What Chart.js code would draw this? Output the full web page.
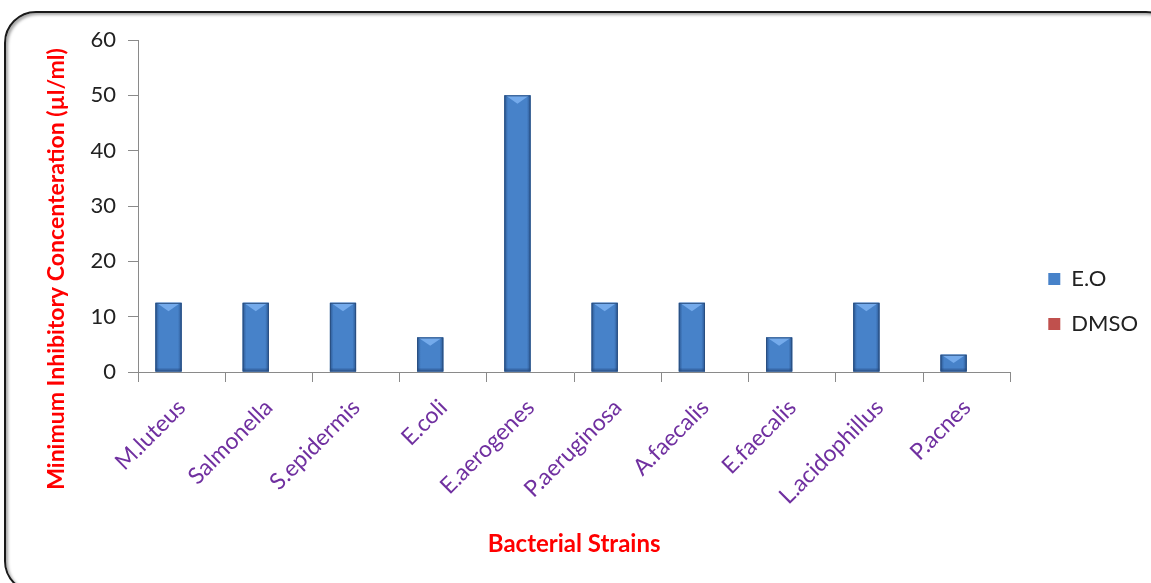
<!DOCTYPE html>
<html>
<head>
<meta charset="utf-8">
<script src="https://cdn.jsdelivr.net/npm/chart.js@4.4.1/dist/chart.umd.min.js"></script>
<style>
  body { margin: 0; background: #fff; }
  #frame {
    position: absolute; left: 4px; top: 11px; width: 1170px; height: 578px;
    border: 2px solid #1a1a1a; border-radius: 32px;
    box-shadow: inset 2px 2px 3px rgba(0, 0, 0, 0.35);
  }
  #chart { position: absolute; left: 0; top: 0; }
</style>
</head>
<body>
<div id="frame"></div>
<canvas id="chart" width="1151" height="583"></canvas>
<script>
// values
const strains = ["M.luteus", "Salmonella", "S.epidermis", "E.coli", "E.aerogenes",
  "P.aeruginosa", "A.faecalis", "E.faecalis", "L.acidophillus", "P.acnes"];
const eoValues = [12.5, 12.5, 12.5, 6.25, 50, 12.5, 12.5, 6.25, 12.5, 3.125];
const dmsoValues = [0, 0, 0, 0, 0, 0, 0, 0, 0, 0];
const yTicks = [0, 10, 20, 30, 40, 50, 60];

const yTitle = "Minimum Inhibitory Concenteration (µl/ml)";
const xTitle = "Bacterial Strains";

// office style bevel on the blue bars
const bevelBars = {
  id: "bevelBars",
  afterDatasetsDraw(chart) {
    const ctx = chart.ctx;
    chart.getDatasetMeta(0).data.forEach((bar) => {
      const { x, y, base, width } = bar.getProps(["x", "y", "base", "width"], true);
      const l = x - width / 2, r = x + width / 2, h = base - y;
      if (h <= 0) return;
      ctx.save();
      const g = ctx.createLinearGradient(l, 0, r, 0);
      g.addColorStop(0, "#2b5792");
      g.addColorStop(0.14, "#4782c9");
      g.addColorStop(0.86, "#4782c9");
      g.addColorStop(1, "#2b5792");
      ctx.fillStyle = g;
      ctx.fillRect(l, y, width, h);
      // light chevron at the top
      const d = Math.min(width * 0.32, h * 0.6);
      ctx.beginPath();
      ctx.moveTo(l + 1, y);
      ctx.lineTo(r - 1, y);
      ctx.lineTo(x, y + d);
      ctx.closePath();
      ctx.fillStyle = "#74aaeb";
      ctx.fill();
      // darker foot
      ctx.fillStyle = "rgba(30, 60, 110, 0.35)";
      ctx.fillRect(l, base - 3, width, 3);
      ctx.strokeStyle = "#2a4f80";
      ctx.lineWidth = 1;
      ctx.strokeRect(l + 0.5, y + 0.5, width - 1, h - 1);
      ctx.restore();
    });
  },
};

// y title is not centred on the plot in the original, so draw it here
const sideTitle = {
  id: "sideTitle",
  afterDraw(chart) {
    const ctx = chart.ctx;
    ctx.save();
    ctx.translate(57, 269);
    ctx.rotate(-Math.PI / 2);
    ctx.font = "bold 23px Lato";
    ctx.fillStyle = "#ff0000";
    ctx.textAlign = "center";
    ctx.textBaseline = "middle";
    ctx.fillText(yTitle, 0, 0);
    ctx.restore();
  },
};

// leave a gap between plot and legend
const legendGap = {
  id: "legendGap",
  afterInit(chart) {
    const fit = chart.legend.fit;
    chart.legend.fit = function () {
      fit.call(this);
      this.width += 15;
    };
  },
  afterLayout(chart) {
    chart.legend.left += 15;
    chart.legend.right += 15;
  },
};

new Chart(document.getElementById("chart"), {
  type: "bar",
  data: {
    labels: strains,
    datasets: [
      {
        label: "E.O",
        data: eoValues,
        backgroundColor: "#4782c9",
        borderWidth: 0,
        categoryPercentage: 0.6,
        barPercentage: 1,
      },
      {
        label: "DMSO",
        data: dmsoValues,
        backgroundColor: "#c0504d",
        borderWidth: 0,
        categoryPercentage: 0.6,
        barPercentage: 1,
      },
    ],
  },
  options: {
    responsive: false,
    animation: false,
    layout: { padding: { left: 0, top: 40, right: 3, bottom: 20 } },
    plugins: {
      tooltip: { enabled: false },
      legend: {
        position: "right",
        labels: {
          boxWidth: 12,
          boxHeight: 12,
          padding: 23,
          color: "#222",
          font: { family: "Lato", size: 22 },
        },
      },
    },
    scales: {
      x: {
        afterFit: (scale) => { scale.height = 191; },
        border: { color: "#8a8a8a" },
        grid: { drawOnChartArea: false, tickLength: 10, color: "#8a8a8a" },
        ticks: {
          minRotation: 45,
          maxRotation: 45,
          padding: 12,
          color: "#7030a0",
          font: { family: "Lato", size: 23 },
        },
        title: {
          display: true,
          text: xTitle,
          color: "#ff0000",
          font: { family: "Lato", size: 24, weight: "bold" },
          padding: { top: 0, bottom: 4 },
        },
      },
      y: {
        min: 0,
        max: 60,
        afterFit: (scale) => { scale.width = 138; },
        afterBuildTicks: (scale) => {
          scale.ticks = yTicks.map((v) => ({ value: v }));
        },
        border: { color: "#8a8a8a" },
        grid: { drawOnChartArea: false, tickLength: 10, color: "#8a8a8a" },
        ticks: {
          padding: 12,
          color: "#222",
          font: { family: "Lato", size: 22 },
        },
      },
    },
  },
  plugins: [bevelBars, sideTitle, legendGap],
});
</script>
</body>
</html>
